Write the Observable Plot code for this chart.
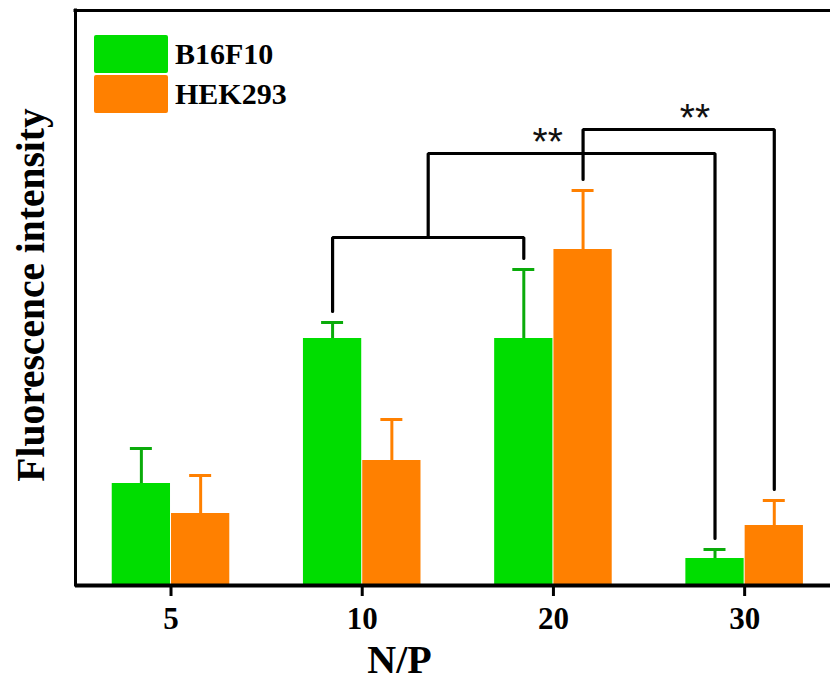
<!DOCTYPE html>
<html><head><meta charset="utf-8">
<script src="https://cdn.jsdelivr.net/npm/d3@7"></script>
<script src="https://cdn.jsdelivr.net/npm/@observablehq/plot@0.6"></script>
<style>
body{margin:0;background:#fff;}
#wrap{position:relative;width:830px;height:683px;}
#legend{position:absolute;left:94px;top:35px;font-family:"Liberation Serif","Times New Roman",serif;font-weight:bold;font-size:30px;color:#000;}
.row{display:flex;align-items:center;height:38px;margin-bottom:2px;}
.sw{width:74px;height:38px;border-radius:2px;margin-right:7px;}
</style></head><body><div id="wrap"><div id="legend"></div></div>
<script>
// ---- data ----
const categories = ["5", "10", "20", "30"];
const seriesNames = ["B16F10", "HEK293"];
const b16f10 = [102, 247, 247, 27];
const b16f10Err = [35, 16, 69, 9];
const hek293 = [72, 125, 336, 60];
const hek293Err = [38, 41, 59, 25];
const colors = ["#00dd00", "#ff8000"];
const errColors = ["#0aab0a", "#ff8000"];
// significance brackets: [category index, series index] pairs, bracket level, label
const bracketFrom = [[1, 0], "mid0", [2, 1]];
const bracketTo = [[2, 0], [3, 0], [3, 1]];
const bracketLevel = [348, 432, 456];
const bracketLabel = ["", "**", "**"];
const bracketLabelX = [null, 1.97, 2.74];
const xLabel = "N/P";
const yLabel = "Fluorescence intensity";

// ---- layout helpers ----
const half = 0.155;
const offsets = [-half, half];
const xDomain = [-0.4995, 3.449];
const yDomain = [0, 575];
const gap = 11;

const values = [b16f10, hek293];
const errs = [b16f10Err, hek293Err];
const rows = [];
categories.forEach((c, i) => seriesNames.forEach((s, k) => {
  rows.push({i, k, series: s, value: values[k][i], err: errs[k][i], cx: i + offsets[k]});
}));
const capTop = (i, k) => values[k][i] + errs[k][i];

// bracket paths
const bracketPts = [];
const mids = [];
bracketLevel.forEach((lev, b) => {
  let ax, ay;
  const f = bracketFrom[b];
  if (typeof f === "string") {
    const m = mids[+f.slice(3)];
    ax = m.x; ay = m.y;
  } else {
    ax = f[0] + offsets[f[1]]; ay = capTop(f[0], f[1]) + gap;
  }
  const t = bracketTo[b];
  const bx = t[0] + offsets[t[1]], by = capTop(t[0], t[1]) + gap;
  mids.push({x: (ax + bx) / 2, y: lev});
  [[ax, ay], [ax, lev], [bx, lev], [bx, by]].forEach(([x, y]) => bracketPts.push({b, x, y}));
});
const starRows = bracketLabel.map((t, b) => ({t, x: bracketLabelX[b], y: bracketLevel[b]})).filter(d => d.t);

const serif = "'Liberation Serif','Times New Roman',serif";

const chart = Plot.plot({
  width: 830, height: 683,
  marginLeft: 75, marginRight: 0, marginTop: 10, marginBottom: 98,
  x: {type: "linear", domain: xDomain, axis: null},
  y: {domain: yDomain, axis: null},
  color: {domain: seriesNames, range: colors},
  style: {fontFamily: serif, color: "#000", background: "#fff", overflow: "visible"},
  marks: [
    Plot.rectY(rows, {x1: d => d.cx - half, x2: d => d.cx + half, y1: 0, y2: "value", fill: "series", insetLeft: 0.5, insetRight: 0.5}),
    Plot.ruleX(rows, {x: "cx", y1: "value", y2: d => d.value + d.err, stroke: d => errColors[d.k], strokeWidth: 3}),
    Plot.ruleY(rows, {y: d => d.value + d.err, x1: d => d.cx - 0.0575, x2: d => d.cx + 0.0575, stroke: d => errColors[d.k], strokeWidth: 3}),
    Plot.line(bracketPts, {x: "x", y: "y", z: "b", stroke: "#000", strokeWidth: 3.2, strokeLinejoin: "miter", curve: "linear"}),
    Plot.text(starRows, {x: "x", y: "y", text: "t", dy: -11, fontSize: 39, fontFamily: "'Liberation Sans',Arial,sans-serif", fill: "#111", lineAnchor: "middle"}),
    Plot.ruleY([0], {stroke: "#000", strokeWidth: 4}),
    Plot.ruleY([yDomain[1]], {stroke: "#000", strokeWidth: 3, strokeLinecap: "square"}),
    Plot.ruleX([xDomain[0]], {stroke: "#000", strokeWidth: 3, strokeLinecap: "square"}),
    Plot.axisX({ticks: [0, 1, 2, 3], tickFormat: i => categories[i], tickSize: 11, tickPadding: 10, fontSize: 31, fontWeight: "bold", fontFamily: serif, strokeWidth: 3, label: null, stroke: "#000"}),
    Plot.text([xLabel], {x: 1.195, frameAnchor: "bottom", dy: 75, fontSize: 40, fontWeight: "bold", fontFamily: serif, lineAnchor: "middle", fill: "#000"}),
    Plot.text([yLabel], {frameAnchor: "left", textAnchor: "middle", dx: -44, dy: -3, rotate: -90, fontSize: 39.5, fontWeight: "bold", fontFamily: serif, lineAnchor: "middle", fill: "#000"})
  ]
});
const wrap = document.getElementById("wrap");
wrap.insertBefore(chart, wrap.firstChild);

const legend = document.getElementById("legend");
seriesNames.forEach((s, k) => {
  const row = document.createElement("div");
  row.className = "row";
  const sw = document.createElement("div");
  sw.className = "sw";
  sw.style.background = colors[k];
  const t = document.createElement("span");
  t.textContent = s;
  row.appendChild(sw); row.appendChild(t);
  legend.appendChild(row);
});
</script></body></html>
